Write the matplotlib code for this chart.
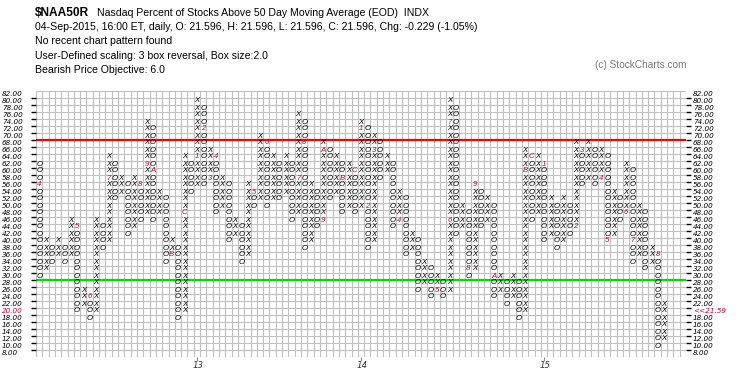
import matplotlib
matplotlib.use('Agg')
import matplotlib.pyplot as plt
import matplotlib.transforms as mtransforms
import numpy as np

# ---------------- data ----------------
col_start = [62, 32, 38, 36, 38, 36, 44, 22, 24, 20, 44, 40, 62, 54, 56, 44, 56, 48, 72, 48,
             52, 36, 38, 20, 62, 56, 78, 58, 64, 50, 56, 42, 44, 36, 54, 52, 68, 52, 62, 54,
             62, 48, 74, 40, 54, 46, 66, 54, 62, 50, 60, 50, 72, 40, 68, 60, 62, 46, 52, 38,
             40, 28, 32, 26, 28, 26, 78, 44, 48, 32, 54, 46, 50, 26, 28, 24, 28, 20, 64, 48,
             62, 42, 50, 40, 50, 44, 66, 58, 66, 58, 64, 42, 52, 48, 60, 36, 48, 34, 36, 12]
col_end = [30, 40, 34, 40, 34, 46, 20, 26, 18, 46, 38, 64, 52, 58, 42, 58, 46, 74, 46, 54,
           34, 40, 18, 64, 54, 80, 56, 66, 48, 58, 40, 46, 34, 56, 50, 70, 50, 64, 52, 64,
           46, 76, 38, 56, 44, 68, 52, 64, 48, 62, 48, 74, 38, 70, 58, 64, 44, 54, 36, 42,
           26, 34, 24, 30, 24, 80, 42, 50, 30, 56, 44, 52, 24, 30, 22, 30, 18, 66, 46, 64,
           40, 52, 38, 52, 42, 68, 56, 68, 56, 66, 40, 54, 46, 62, 34, 50, 32, 38, 10, 22]
first_kind = 'O'

marker_col = [0, 6, 8, 11, 16, 17, 18, 21, 23, 25, 26, 27, 28, 34, 36, 41, 42, 45, 45, 48,
              50, 51, 52, 53, 57, 63, 65, 65, 68, 69, 72, 77, 78, 80, 85, 86, 89, 90, 93, 94, 98]
marker_price = [56, 44, 24, 58, 56, 62, 60, 36, 48, 64, 72, 58, 64, 54, 68, 58, 68, 46, 66, 58,
                60, 72, 50, 66, 46, 26, 46, 74, 32, 56, 30, 60, 64, 62, 44, 66, 58, 40, 48, 40, 36]
marker_label = ['4', '5', '6', '7', '8', '9', 'A', 'B', 'C', '1', '2', '3', '4', '5', '6', '7', '8', '9', 'A', 'B',
                'C', '1', '2', '3', '4', '5', '6', '7', '8', '9', 'A', 'B', 'C', '1', '2', '3', '4', '5', '6', '7', '8']

year_cols = [25, 51, 80]
year_labels = ['13', '14', '15']

price_levels = list(range(82, 7, -2))
red_level = 69
green_level = 29
last_price_label = '<<21.59'
last_price_row = 20

header_lines = [
    "04-Sep-2015, 16:00 ET, daily, O: 21.596, H: 21.596, L: 21.596, C: 21.596, Chg: -0.229 (-1.05%)",
    "No recent chart pattern found",
    "User-Defined scaling: 3 box reversal, Box size:2.0",
    "Bearish Price Objective: 6.0",
]

# ---------------- layout ----------------
W, H = 745, 377
fig = plt.figure(figsize=(W / 100, H / 100), dpi=100)
fig.patch.set_facecolor('white')
gl, gr, gt, gb = 36, 686, 90.5, 356.5
ax = fig.add_axes([gl / W, 1 - gb / H, (gr - gl) / W, (gb - gt) / H])
ncols = 103
ax.set_xlim(-0.5, ncols - 0.5)
ax.set_ylim(7, 83)
ax.axis('off')

grid_c = '#c0c0c0'
ax.vlines(np.arange(-0.5, ncols, 1), 7, 83, color=grid_c, lw=0.8, zorder=1)
ax.hlines(np.arange(7, 84, 2), -0.5, ncols - 0.5, color=grid_c, lw=0.8, zorder=1)

ax.axhline(red_level, color='#ff0000', lw=1.6, zorder=2)
ax.axhline(green_level, color='#00dd00', lw=1.6, zorder=2)

mark_red = '#cc0033'
box_font = dict(family=['Liberation Sans', 'DejaVu Sans'], style='italic')
lab_font = dict(family=['DejaVu Sans'], style='italic')
fs_box = 5.6
markers = {(c, p): l for c, p, l in zip(marker_col, marker_price, marker_label)}
kinds = ['X', 'O']
k0 = 0 if first_kind == 'X' else 1
for i, (s, e) in enumerate(zip(col_start, col_end)):
    kind = kinds[(i + k0) % 2]
    step = 2 if e >= s else -2
    for p in range(s, e + step, step):
        lab = markers.get((i, p), kind)
        col = mark_red if (i, p) in markers else 'black'
        ax.text(i, p, lab, ha='center', va='center', fontsize=fs_box,
                color=col, zorder=3, **box_font)

# ---------------- price labels ----------------
fs_lab = 5.2
tl = mtransforms.blended_transform_factory(fig.transFigure, ax.transData)
for p in price_levels:
    lab = f"{p:.2f}"
    c = mark_red if p == last_price_row else 'black'
    ax.text(2 / W, p, lab, transform=tl, ha='left', va='center', fontsize=fs_lab,
            color=c, **lab_font)
    rlab = last_price_label if p == last_price_row else lab
    ax.text(693 / W, p, rlab, transform=tl, ha='left', va='center', fontsize=fs_lab,
            color=c, **lab_font)

ta = mtransforms.blended_transform_factory(ax.transAxes, ax.transData)
tick_y = [p - 1 for p in price_levels if p > 8]
ax.hlines(tick_y, -5 / (gr - gl), 0, transform=ta, color='black', lw=1, clip_on=False)
ax.hlines(tick_y, 1, 1 + 5 / (gr - gl), transform=ta, color='black', lw=1, clip_on=False)

# year ticks
tb = mtransforms.blended_transform_factory(ax.transData, ax.transAxes)
ax.vlines(year_cols, -4 / (gb - gt), 0, transform=tb, color='#888888', lw=0.8, clip_on=False)
for c, l in zip(year_cols, year_labels):
    ax.text(c + 0.2, -9.5 / (gb - gt), l, transform=tb, ha='center', va='center', fontsize=6.2,
            color='#333333', **lab_font)

# header
hf = ['Liberation Sans', 'DejaVu Sans']
fig.text(35 / W, 1 - 13 / H, '$NAA50R', fontsize=8.6, fontweight='bold', family=hf,
         va='center', ha='left', parse_math=False)
fig.text(97 / W, 1 - 13 / H, 'Nasdaq Percent of Stocks Above 50 Day Moving Average (EOD)  INDX',
         fontsize=7.6, family=hf, va='center', ha='left')
for k, line in enumerate(header_lines):
    fig.text(35 / W, 1 - (27 + 14.3 * k) / H, line, fontsize=7.6, family=hf,
             va='center', ha='left')
fig.text(595 / W, 1 - 65 / H, '(c) StockCharts.com', fontsize=7.3, family=hf,
         color='#777777', va='center', ha='left')

fig.savefig('out.png', dpi=100, facecolor='white')
